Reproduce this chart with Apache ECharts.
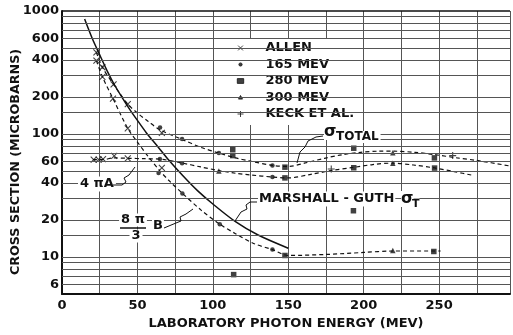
<!DOCTYPE html>
<html>
<head>
<meta charset="utf-8">
<script src="https://cdn.jsdelivr.net/npm/echarts@6/dist/echarts.min.js"></script>
<style>
html, body { margin: 0; background: #fff; }
#chart { width: 513px; height: 335px; }
</style>
</head>
<body>
<div id="chart"></div>
<script>
// y axis: labelled values and all horizontal rules
var yLabels = [1000, 600, 400, 200, 100, 60, 40, 20, 10, 6];
var yRules = [1000, 900, 800, 700, 600, 500, 400, 300, 200, 150, 100, 90, 80, 70, 60, 50, 40, 30, 20, 15, 10, 9, 8, 7, 6];

// Marshall-Guth sigma_T (solid)
var mgE = [15, 20, 25, 30, 35, 40, 45, 50, 56, 60, 65, 70, 80, 90, 100, 115, 130, 150];
var mgV = [860, 600, 440, 325, 248, 197, 158, 129, 102, 89, 75, 63, 46, 34.5, 27, 19.4, 15.1, 11.8];

// sigma total (dashed, top)
var totE = [22.8, 26.8, 34.2, 43.6, 50, 57, 65, 80, 92, 104, 115, 124, 140, 150, 162, 174, 186, 198, 210, 220, 234, 247, 262, 275, 297];
var totV = [461, 349, 253, 175, 148, 127, 108, 90, 78, 70, 64, 60.5, 55.5, 54.5, 58.5, 63.5, 68, 71, 72.5, 72.5, 71, 68, 64, 61, 55];

// 4 pi A (dashed, middle)
var aE = [20.5, 27, 34.4, 43.6, 55, 65, 80, 92, 104, 115, 125, 140, 150, 165, 178.5, 193, 206, 219, 233, 247, 260, 273];
var aV = [62, 62, 64, 63.5, 63, 62.5, 58, 54, 50.5, 48, 46.5, 44.7, 44, 47, 50.5, 53.5, 56.5, 58, 56, 53, 49.5, 46];

// 8pi/3 B (dashed, bottom)
var bE = [22.8, 26.8, 33.8, 43.6, 50, 57, 65, 72, 80, 92, 104.6, 115, 127, 139.5, 150, 175, 200, 219, 251];
var bV = [395, 292, 194, 111, 86, 66, 50, 40.6, 32.8, 24.2, 18.5, 15.5, 12.9, 11.5, 10.3, 10.5, 10.9, 11.2, 11.2];

// measured points [energy, microbarns]
var allen = [[22.8, 461], [26.8, 349], [34.2, 253], [43.6, 175], [66.2, 102],
    [22.8, 395], [26.8, 292], [33.8, 194], [43.6, 111], [66.2, 53],
    [21, 62], [24.3, 62], [27.2, 62.5], [34.6, 66.5], [43.6, 63.5]];
var mev165 = [[65, 113], [79.6, 91], [104, 70], [139.5, 55.5],
    [64.9, 62.7], [79.6, 58], [139.5, 44.7],
    [64, 48.2], [79.8, 32.8], [104.6, 18.5], [139.5, 11.5]];
var mev280 = [[113.2, 74.7], [113.2, 66.8], [147.8, 53.8], [193.4, 76.7], [246.9, 64],
    [147.8, 44], [193.4, 53.2], [247, 52.9],
    [147.8, 10.3], [246.5, 11.1],
    [113.8, 7.2], [193.2, 23.8]];
var mev300 = [[219.3, 70.3], [104, 50], [219.3, 58], [219.3, 11.3]];
var keck = [[178.5, 52], [259, 66.8]];

var font = '"DejaVu Sans", sans-serif';
var ink = '#111';
var rule = '#555';

function pairs(xs, ys) {
    var out = [];
    for (var i = 0; i < xs.length; i++) {
        out.push([xs[i], ys[i]]);
    }
    return out;
}

function curve(name, xs, ys, dashed) {
    return {
        name: name,
        type: 'line',
        data: pairs(xs, ys),
        smooth: 0.3,
        showSymbol: false,
        silent: true,
        z: 3,
        lineStyle: dashed ? { color: ink, width: 1.2, type: [4, 3] } : { color: ink, width: 1.5 }
    };
}

function points(name, data, symbol, size, stroke) {
    return {
        name: name,
        type: 'scatter',
        data: data,
        symbol: symbol,
        symbolSize: size,
        silent: true,
        z: 4,
        itemStyle: { color: ink, borderColor: ink, borderWidth: stroke }
    };
}

// bold lettering, like the stencilled originals
function txt(size) {
    return 'bold ' + size + 'px ' + font;
}

var xPath = 'path://M0,0L10,10M10,0L0,10';
var plusPath = 'path://M5,0V10M0,5H10';

var option = {
    animation: false,
    grid: { left: 62, right: 0, top: 11, bottom: 39 },
    xAxis: {
        type: 'value',
        min: 0,
        max: 297,
        interval: 25,
        axisLine: { onZero: false, lineStyle: { color: ink, width: 2 } },
        axisTick: { show: false },
        splitLine: { show: true, lineStyle: { color: rule, width: 1 } },
        axisLabel: {
            color: ink, fontSize: 13, fontWeight: 'bold', fontFamily: font, margin: 5,
            formatter: function (v) { return v % 50 === 0 ? String(v) : ''; }
        },
        name: 'LABORATORY PHOTON ENERGY (MEV)',
        nameLocation: 'middle',
        nameGap: 19,
        nameTextStyle: { color: ink, fontSize: 13, fontWeight: 'bold', fontFamily: font }
    },
    yAxis: {
        type: 'log',
        min: 5,
        max: 1000,
        axisLine: { show: true, onZero: false, lineStyle: { color: ink, width: 2 } },
        axisTick: { show: false },
        axisLabel: { show: false },
        splitLine: { show: false }
    },
    legend: {
        orient: 'vertical',
        left: 231,
        top: 38,
        padding: [3, 6, 4, 4],
        itemWidth: 10,
        itemHeight: 10,
        itemGap: 2.5,
        selectedMode: false,
        backgroundColor: '#fff',
        itemStyle: { borderWidth: 1, borderColor: ink },
        textStyle: { color: ink, fontSize: 13, fontWeight: 'bold', fontFamily: font, lineHeight: 14, padding: [0, 0, 0, 15] },
        data: [
            { name: 'ALLEN', icon: 'path://M0,0M10,10M2.6,2.6L7.4,7.4M7.4,2.6L2.6,7.4' },
            { name: '165 MEV', icon: 'path://M0,0M10,10M3.4,5A1.6,1.6,0,1,1,6.6,5A1.6,1.6,0,1,1,3.4,5Z' },
            { name: '280 MEV', icon: 'path://M0,0M10,10M1.8,2.6H8.2V7.4H1.8Z' },
            { name: '300 MEV', icon: 'path://M0,0M10,10M5,3L7,6.6H3Z' },
            { name: 'KECK ET AL.', icon: 'path://M0,0M10,10M5,2V8M2,5H8' }
        ]
    },
    series: [
        {
            name: 'rules',
            type: 'line',
            data: [],
            silent: true,
            z: 1,
            markLine: {
                silent: true,
                symbol: 'none',
                animation: false,
                lineStyle: { color: rule, width: 1, type: 'solid' },
                label: { position: 'start', distance: 3, color: ink, fontSize: 13, fontWeight: 'bold', fontFamily: font },
                data: yRules.map(function (v) {
                    return {
                        yAxis: v,
                        lineStyle: v === 1000 ? { color: ink, width: 1.5 } : {},
                        label: { show: yLabels.indexOf(v) >= 0, formatter: String(v) }
                    };
                })
            }
        },
        curve('Marshall-Guth', mgE, mgV, false),
        curve('total', totE, totV, true),
        curve('4piA', aE, aV, true),
        curve('8pi3B', bE, bV, true),
        points('ALLEN', allen, xPath, 6, 1.1),
        points('165 MEV', mev165, 'circle', 4.5, 0),
        points('280 MEV', mev280, 'rect', 5.5, 0),
        points('300 MEV', mev300, 'triangle', 5.5, 0),
        points('KECK ET AL.', keck, plusPath, 7, 1.1)
    ],
    // y title, labels and leader lines drawn in the plot
    graphic: [
        { type: 'text', z: 10, x: 15.5, y: 162, rotation: Math.PI / 2, style: { text: 'CROSS SECTION (MICROBARNS)', font: txt(12.7), fill: ink, align: 'center', verticalAlign: 'middle' } },
        { type: 'text', z: 10, x: 78, y: 184, style: { text: '4 πA', font: txt(13), fill: ink, verticalAlign: 'middle', backgroundColor: '#fff', padding: [1, 2] } },
        { type: 'polyline', z: 10, shape: { points: [[113, 185], [122, 185], [126, 182], [124, 178], [129, 175], [135, 167]] }, style: { stroke: ink, lineWidth: 1, fill: null } },
        { type: 'text', z: 10, x: 133, y: 220, style: { text: '8 π', font: txt(13), fill: ink, align: 'center', verticalAlign: 'middle', backgroundColor: '#fff', padding: [0, 2] } },
        { type: 'line', z: 10, shape: { x1: 120, y1: 228, x2: 146, y2: 228 }, style: { stroke: ink, lineWidth: 1.5 } },
        { type: 'text', z: 10, x: 136, y: 236, style: { text: '3', font: txt(13), fill: ink, align: 'center', verticalAlign: 'middle', backgroundColor: '#fff', padding: [0, 2] } },
        { type: 'text', z: 10, x: 152, y: 226, style: { text: 'B', font: txt(13), fill: ink, verticalAlign: 'middle', backgroundColor: '#fff', padding: [0, 1] } },
        { type: 'polyline', z: 10, shape: { points: [[164, 228], [176, 223], [181, 221], [180, 217], [186, 214], [193, 209]] }, style: { stroke: ink, lineWidth: 1, fill: null } },
        { type: 'text', z: 10, x: 258, y: 199, style: { text: 'MARSHALL - GUTH', font: txt(13), fill: ink, verticalAlign: 'middle', backgroundColor: '#fff', padding: [1, 1] } },
        { type: 'text', z: 10, x: 401, y: 199, style: { text: 'σ', font: txt(16), fill: ink, verticalAlign: 'middle', backgroundColor: '#fff' } },
        { type: 'text', z: 10, x: 412, y: 204, style: { text: 'T', font: txt(11), fill: ink, verticalAlign: 'middle', backgroundColor: '#fff' } },
        { type: 'polyline', z: 10, shape: { points: [[257, 202], [250, 202], [246, 205], [247, 209], [241, 212], [235, 221]] }, style: { stroke: ink, lineWidth: 1, fill: null } },
        { type: 'text', z: 10, x: 324, y: 132, style: { text: 'σ', font: txt(16), fill: ink, verticalAlign: 'middle', backgroundColor: '#fff' } },
        { type: 'text', z: 10, x: 336, y: 137, style: { text: 'TOTAL', font: txt(12), fill: ink, verticalAlign: 'middle', backgroundColor: '#fff', padding: [0, 2, 0, 0] } },
        { type: 'polyline', z: 10, shape: { points: [[323, 136], [316, 137], [308, 141], [305, 147], [300, 152], [297, 163]] }, style: { stroke: ink, lineWidth: 1, fill: null } }
    ]
};

var chart = echarts.init(document.getElementById('chart'));
chart.setOption(option);
</script>
</body>
</html>
